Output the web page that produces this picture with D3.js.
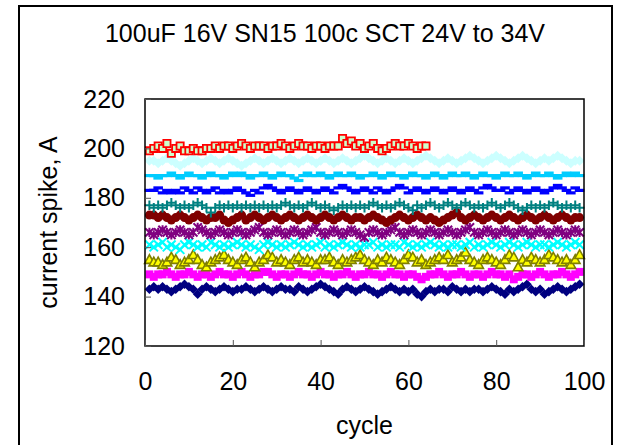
<!DOCTYPE html>
<html>
<head>
<meta charset="utf-8">
<script src="https://cdn.jsdelivr.net/npm/d3@7"></script>
<style>
  body { margin: 0; background: #fff; }
  svg { display: block; font-family: 'Liberation Sans', Arial, sans-serif; }
</style>
</head>
<body>
<div id="chart"></div>
<script>
// series values, one per cycle (cycle 1..n)
const navy = [
  143,144,143,144,143,142,143,144,145,144, 143,141,143,144,143,142,143,144,143,142,
  143,143,144,143,142,143,144,143,142,143, 144,143,143,142,144,143,142,143,144,145,
  144,143,142,141,143,144,143,142,143,144, 143,142,141,142,143,144,143,142,143,142,
  143,141,140,142,143,142,143,143,142,144, 143,142,143,142,143,143,142,143,144,143,
  142,141,143,142,143,144,145,143,142,143, 141,142,143,144,143,142,143,144,145];
const magenta = [
  149,148,149,149,150,149,148,149,149,150, 149,148,149,149,148,149,150,149,149,148,
  149,150,149,148,149,149,150,150,149,148, 149,149,148,149,150,149,149,148,149,150,
  149,149,148,149,149,150,149,148,149,149, 150,149,149,148,149,150,149,149,148,149,
  149,148,147,148,149,149,150,149,148,149, 149,150,149,148,149,149,148,149,150,149,
  149,148,149,147,148,149,149,148,149,150, 149,148,149,149,150,149,148,149,150];
const olive = [
  155,154,154,153,154,156,155,153,154,155, 157,155,153,152,154,155,156,157,155,154,
  153,155,156,154,152,154,155,157,156,154, 155,154,153,155,156,154,155,154,153,155,
  155,156,154,153,155,154,155,156,157,155, 154,153,155,154,156,155,154,153,155,157,
  156,154,155,153,154,155,156,155,157,154, 155,156,158,155,154,153,155,156,155,154,
  153,155,157,156,152,155,154,156,155,154, 155,157,156,155,154,155,153,155,157];
const cyan = [
  161,160,161,162,160,161,160,159,161,162, 161,160,161,160,162,161,160,161,160,161,
  162,161,160,161,160,159,161,162,161,160, 161,160,161,162,161,160,161,160,161,162,
  160,161,160,161,162,161,160,161,160,161, 161,162,160,161,160,161,161,160,162,161,
  160,161,160,161,162,161,160,161,160,161, 161,160,161,162,160,161,160,161,162,161,
  160,161,162,161,160,161,162,161,160,161, 161,160,161,162,161,160,161,162,161];
const purple = [
  166,165,166,167,166,165,166,167,166,165, 166,168,167,166,165,166,167,166,165,166,
  167,166,165,166,167,168,166,165,166,167, 166,165,166,167,166,165,166,167,168,166,
  165,166,167,166,165,166,167,166,165,164, 166,167,166,165,166,167,168,166,165,166,
  167,166,165,166,167,166,165,166,167,166, 165,166,167,168,166,165,166,167,166,165,
  166,167,166,165,166,167,166,165,166,167, 166,165,166,167,166,165,166,167,166];
const darkRed = [
  173,173,172,173,172,171,172,173,172,171, 172,173,172,171,172,172,173,171,170,171,
  172,173,171,172,173,172,171,172,173,172, 171,172,173,172,171,172,173,172,171,172,
  173,172,171,172,173,172,171,172,172,171, 172,173,172,171,170,171,172,173,172,171,
  172,173,172,171,172,171,170,171,172,173, 174,172,171,172,173,172,171,172,173,172,
  171,172,173,172,171,172,173,172,171,172, 173,172,171,172,173,172,171,172,172];
const teal = [
  177,176,177,176,177,178,177,176,177,176, 177,178,177,176,174,176,177,176,177,176,
  177,176,177,176,177,176,177,176,177,176, 177,178,177,176,177,176,177,178,177,176,
  177,176,175,176,177,176,177,176,177,176, 177,178,177,176,177,176,177,178,177,176,
  175,177,176,177,178,177,176,177,178,177, 176,177,178,177,176,177,176,177,178,177,
  176,177,178,177,176,175,176,177,176,177, 176,177,178,177,176,177,176,177,176];
const blue = [
  183,183,184,182,183,182,183,182,184,183, 182,184,183,182,183,184,182,183,182,183,
  184,183,182,181,183,182,184,185,184,183, 182,183,184,183,182,183,184,183,182,183,
  184,183,182,184,185,184,183,182,183,184, 183,182,184,183,182,183,184,185,184,182,
  183,184,183,182,183,184,183,182,183,184, 183,182,183,184,183,182,184,185,184,183,
  183,184,182,183,184,183,182,183,184,183, 182,183,184,185,184,183,182,184,183];
const skyBlue = [
  189,189,188,189,189,190,189,188,189,190, 189,189,188,189,190,189,189,188,189,190,
  189,190,189,188,189,189,190,189,188,189, 190,189,189,188,187,189,190,189,189,190,
  189,188,189,190,189,189,190,189,188,189, 189,190,189,188,189,190,189,189,188,189,
  190,189,189,188,189,190,189,188,189,190, 189,189,190,189,188,189,190,189,189,188,
  189,190,189,189,190,189,188,189,190,189, 189,190,189,188,189,190,189,190,189];
const paleCyan = [
  195,195,194,195,196,195,194,193,194,195, 196,195,194,195,196,195,194,195,196,195,
  194,193,194,195,196,195,194,195,196,195, 194,195,196,195,194,195,196,195,194,195,
  196,195,194,195,196,195,194,195,196,197, 196,195,194,195,196,195,194,195,196,195,
  194,195,196,197,196,195,194,195,196,195, 194,195,196,197,196,195,194,195,196,197,
  196,195,194,195,196,197,196,195,194,195, 196,195,196,197,196,195,194,195,195];
const red = [
  199,200,201,200,202,198,200,201,199,199, 200,199,199,200,200,201,200,201,201,200,
  201,202,201,200,201,201,201,200,201,201, 202,201,200,201,202,201,201,200,201,201,
  200,201,201,201,204,202,203,201,202,200, 201,202,200,199,200,201,202,201,201,202,
  201,200,201,201];

const xTicks = [0, 20, 40, 60, 80, 100];
const yTicks = [120, 140, 160, 180, 200, 220];
const titleText = '100uF 16V SN15 100c SCT 24V to 34V';
const xLabel = 'cycle';
const yLabel = 'current spike, A';

const W = 619, H = 445;
const plot = { left: 145, right: 584, top: 99, bottom: 346 };

const svg = d3.select('#chart').append('svg')
  .attr('width', W)
  .attr('height', H);

// outer chart frame
svg.append('rect')
  .attr('x', 19).attr('y', 6)
  .attr('width', 593).attr('height', 470)
  .attr('fill', '#fff')
  .attr('stroke', '#000')
  .attr('stroke-width', 2);

const x = d3.scaleLinear().domain([0, 100]).range([plot.left, plot.right]);
const y = d3.scaleLinear().domain([120, 220]).range([plot.bottom, plot.top]);

// marker shapes, Excel style
const shapes = {
  diamond: (s) => `M0,${-s}L${s},0L0,${s}L${-s},0Z`,
  square: (s) => `M${-s},${-s}H${s}V${s}H${-s}Z`,
  triangle: (s) => `M0,${-s}L${s},${s * 0.8}L${-s},${s * 0.8}Z`,
  cross: (s) => `M${-s},${-s}L${s},${s}M${-s},${s}L${s},${-s}`,
  star: (s) => `M${-s},${-s}L${s},${s}M${-s},${s}L${s},${-s}M0,${-s * 1.1}V${s * 1.1}`,
  plus: (s) => `M${-s},0H${s}M0,${-s}V${s}`,
  dash: (s) => `M${-s},-1.6H${s}V1.6H${-s}Z`,
};

const series = [
  { values: navy, shape: 'diamond', size: 4.8, fill: '#000080', stroke: 'none' },
  { values: magenta, shape: 'square', size: 4, fill: '#ff00ff', stroke: 'none' },
  { values: olive, shape: 'triangle', size: 4.8, fill: '#ffff00', stroke: '#808000', sw: 1.6 },
  { values: cyan, shape: 'cross', size: 4.2, fill: 'none', stroke: '#00ffff', sw: 2 },
  { values: purple, shape: 'star', size: 4.2, fill: 'none', stroke: '#800080', sw: 2 },
  { values: darkRed, shape: 'circle', size: 4.5, fill: '#800000', stroke: 'none' },
  { values: teal, shape: 'plus', size: 4.8, fill: 'none', stroke: '#008080', sw: 2 },
  { values: blue, shape: 'dash', size: 4.8, fill: '#0000ff', stroke: 'none' },
  { values: skyBlue, shape: 'dash', size: 4.8, fill: '#00ccff', stroke: 'none' },
  { values: paleCyan, shape: 'diamond', size: 5, fill: '#ccffff', stroke: 'none' },
  { values: red, shape: 'square', size: 3.6, fill: '#ccffcc', stroke: '#ff0000', sw: 1.8 },
];

const marks = svg.append('g').attr('class', 'marks');
series.forEach((s) => {
  const g = marks.append('g');
  const pts = s.values.map((v, i) => ({ c: i + 1, v }));
  if (s.shape === 'circle') {
    g.selectAll('circle').data(pts).join('circle')
      .attr('cx', d => x(d.c))
      .attr('cy', d => y(d.v))
      .attr('r', s.size)
      .attr('fill', s.fill);
  } else {
    g.selectAll('path').data(pts).join('path')
      .attr('transform', d => `translate(${x(d.c)},${y(d.v)})`)
      .attr('d', shapes[s.shape](s.size))
      .attr('fill', s.fill)
      .attr('stroke', s.stroke)
      .attr('stroke-width', s.sw || 0);
  }
});

// plot frame
svg.append('rect')
  .attr('x', plot.left).attr('y', plot.top)
  .attr('width', plot.right - plot.left)
  .attr('height', plot.bottom - plot.top)
  .attr('fill', 'none')
  .attr('stroke', '#000')
  .attr('stroke-width', 1.5);

const xAxis = d3.axisBottom(x)
  .tickValues(xTicks)
  .tickSizeInner(-6)
  .tickSizeOuter(0)
  .tickPadding(26);

const xg = svg.append('g')
  .attr('transform', `translate(0,${plot.bottom})`)
  .call(xAxis);
xg.select('.domain').remove();
xg.selectAll('line').attr('stroke', '#555');
xg.selectAll('text')
  .attr('font-size', 25)
  .attr('fill', '#000');

const yAxis = d3.axisLeft(y)
  .tickValues(yTicks)
  .tickSizeInner(-6)
  .tickSizeOuter(0)
  .tickPadding(20);

const yg = svg.append('g')
  .attr('transform', `translate(${plot.left},0)`)
  .call(yAxis);
yg.select('.domain').remove();
yg.selectAll('line').attr('stroke', '#555');
yg.selectAll('text')
  .attr('font-size', 25)
  .attr('fill', '#000');

svg.append('text')
  .attr('x', 325).attr('y', 42)
  .attr('text-anchor', 'middle')
  .attr('font-size', 25)
  .text(titleText);

svg.append('text')
  .attr('x', (plot.left + plot.right) / 2).attr('y', 434)
  .attr('text-anchor', 'middle')
  .attr('font-size', 25)
  .text(xLabel);

svg.append('text')
  .attr('transform', `translate(57,${(plot.top + plot.bottom) / 2}) rotate(-90)`)
  .attr('text-anchor', 'middle')
  .attr('font-size', 25)
  .text(yLabel);
</script>
</body>
</html>
